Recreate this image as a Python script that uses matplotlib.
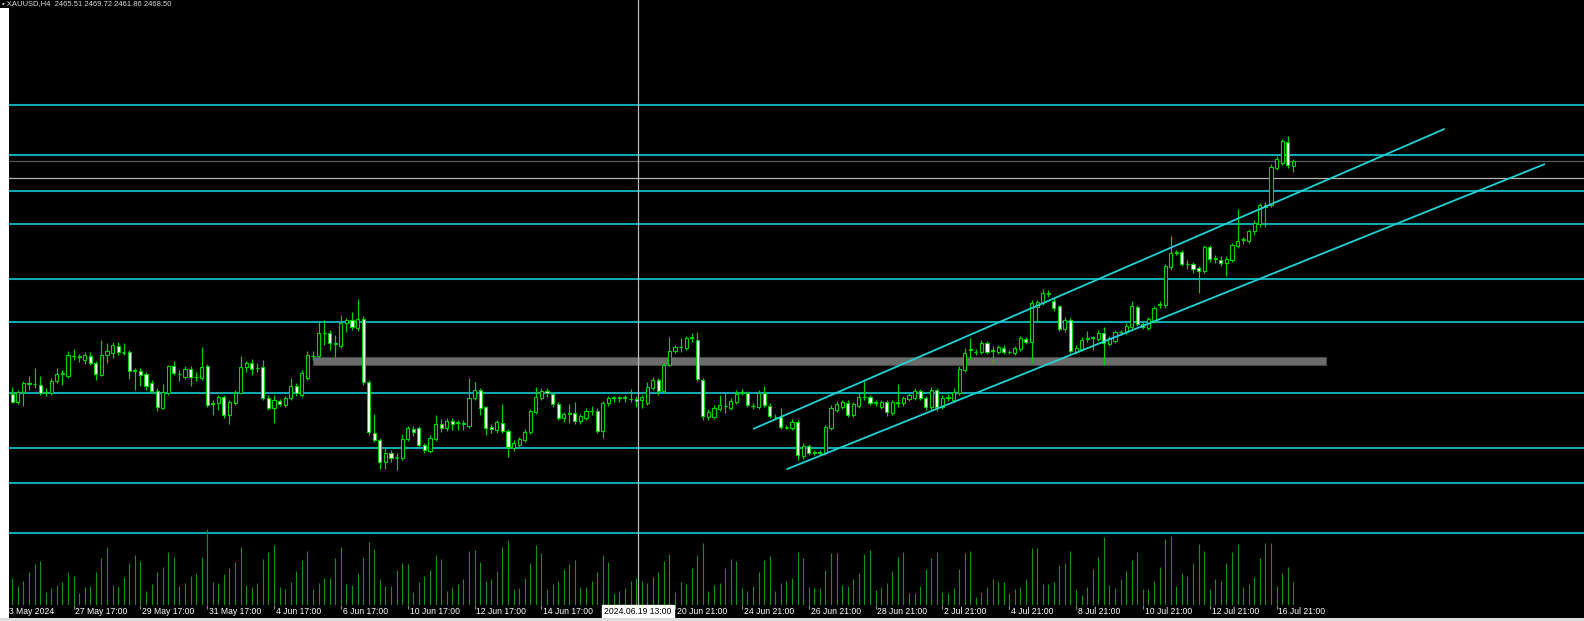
import matplotlib
matplotlib.use('Agg')
import matplotlib.pyplot as plt
import matplotlib.transforms as mtrans
from matplotlib.patches import Rectangle
import numpy as np

# ---------------- data (XAUUSD H4) ----------------
opens = [2328.6, 2323.8, 2329.8, 2334.6, 2334.6, 2334.0, 2329.8, 2329.2, 2336.4, 2340.6,
         2339.4, 2351.4, 2351.4, 2349.0, 2351.4, 2347.2, 2340.0, 2352.0, 2353.2, 2357.4,
         2353.8, 2353.8, 2342.4, 2342.4, 2340.6, 2335.2, 2330.4, 2320.2, 2329.2, 2345.4,
         2340.6, 2338.8, 2343.6, 2338.8, 2338.2, 2345.4, 2323.2, 2323.2, 2326.8, 2316.0,
         2323.2, 2329.2, 2344.8, 2347.2, 2344.2, 2344.8, 2326.2, 2320.2, 2324.4, 2322.0,
         2326.2, 2333.4, 2328.0, 2338.2, 2351.4, 2351.4, 2365.2, 2365.2, 2358.6, 2357.4,
         2371.2, 2373.0, 2368.2, 2373.6, 2335.8, 2305.2, 2301.0, 2287.8, 2293.2, 2290.8,
         2290.2, 2301.6, 2307.6, 2308.2, 2298.0, 2294.4, 2301.6, 2310.6, 2308.2, 2312.4,
         2311.2, 2310.6, 2309.4, 2326.2, 2331.0, 2320.8, 2308.8, 2307.0, 2311.2, 2306.4,
         2296.2, 2298.0, 2301.0, 2305.8, 2317.8, 2326.2, 2330.4, 2328.6, 2322.6, 2314.2,
         2316.6, 2317.2, 2312.4, 2314.2, 2318.4, 2318.4, 2306.4, 2323.2, 2326.2, 2326.2,
         2326.2, 2325.6, 2325.6, 2325.0, 2323.2, 2332.2, 2337.0, 2330.4, 2346.0, 2354.4,
         2356.8, 2356.2, 2362.2, 2361.0, 2337.0, 2314.8, 2314.8, 2319.6, 2321.4, 2320.2,
         2323.8, 2329.8, 2329.2, 2321.4, 2320.8, 2329.2, 2321.4, 2314.8, 2314.8, 2308.8,
         2308.2, 2311.8, 2291.4, 2297.4, 2293.2, 2293.2, 2293.2, 2308.2, 2319.0, 2320.8,
         2323.2, 2316.0, 2321.4, 2326.8, 2326.8, 2323.2, 2320.8, 2323.8, 2317.2, 2323.2,
         2323.2, 2325.6, 2326.2, 2330.4, 2326.2, 2320.8, 2331.0, 2320.8, 2326.2, 2325.0,
         2329.2, 2343.0, 2355.0, 2353.8, 2353.8, 2359.2, 2355.0, 2353.8, 2356.2, 2353.8,
         2353.2, 2355.6, 2361.6, 2359.8, 2380.8, 2383.2, 2388.6, 2384.4, 2381.4, 2367.6,
         2373.0, 2353.8, 2355.6, 2361.6, 2362.2, 2361.6, 2365.2, 2358.6, 2360.4, 2365.8,
         2365.8, 2368.8, 2380.8, 2370.6, 2368.2, 2372.4, 2382.0, 2382.0, 2404.8, 2413.2,
         2413.8, 2406.6, 2406.6, 2404.2, 2402.4, 2416.8, 2409.6, 2409.0, 2407.2, 2409.0,
         2417.4, 2421.0, 2420.4, 2426.4, 2430.6, 2440.8, 2442.0, 2464.2, 2467.2, 2479.8,
         2465.51]

closes = [2323.8, 2329.8, 2335.2, 2334.9, 2334.3, 2329.2, 2329.5, 2336.4, 2340.6, 2340.9,
          2352.0, 2351.7, 2350.8, 2352.0, 2347.2, 2340.6, 2352.0, 2354.4, 2358.0, 2353.8,
          2353.5, 2342.4, 2343.0, 2340.0, 2333.4, 2330.4, 2320.8, 2329.8, 2345.4, 2341.2,
          2340.3, 2343.6, 2338.8, 2339.1, 2344.8, 2322.0, 2322.6, 2326.8, 2316.0, 2323.8,
          2329.2, 2344.8, 2347.2, 2343.6, 2343.9, 2326.2, 2320.2, 2325.0, 2322.6, 2326.2,
          2333.4, 2329.2, 2341.2, 2352.0, 2351.7, 2365.2, 2364.9, 2359.2, 2358.9, 2371.2,
          2373.0, 2368.8, 2373.6, 2335.8, 2305.8, 2301.0, 2287.8, 2293.2, 2290.2, 2290.5,
          2301.6, 2308.2, 2305.8, 2298.0, 2295.0, 2302.2, 2310.6, 2308.2, 2312.4, 2310.6,
          2311.5, 2310.9, 2326.2, 2331.0, 2320.2, 2308.2, 2307.6, 2311.8, 2306.4, 2296.8,
          2299.2, 2301.6, 2305.8, 2318.4, 2326.8, 2330.4, 2329.2, 2322.6, 2314.2, 2316.6,
          2316.9, 2312.4, 2315.4, 2318.4, 2318.7, 2306.4, 2323.2, 2326.2, 2326.5, 2326.5,
          2326.8, 2325.3, 2324.4, 2326.8, 2332.8, 2337.0, 2330.4, 2346.0, 2354.4, 2356.8,
          2357.1, 2362.2, 2362.5, 2337.6, 2315.4, 2317.8, 2320.2, 2322.0, 2321.7, 2324.4,
          2328.6, 2329.5, 2322.0, 2321.7, 2329.2, 2322.0, 2315.4, 2314.5, 2308.8, 2308.5,
          2311.8, 2292.0, 2297.4, 2293.2, 2293.5, 2293.5, 2308.8, 2320.2, 2322.6, 2323.8,
          2316.0, 2322.6, 2326.8, 2327.1, 2323.2, 2323.5, 2323.8, 2317.8, 2323.8, 2323.5,
          2326.2, 2328.0, 2330.4, 2326.2, 2320.8, 2331.0, 2320.8, 2326.2, 2326.5, 2329.8,
          2343.6, 2353.2, 2355.3, 2354.1, 2359.2, 2353.8, 2354.7, 2356.8, 2353.8, 2354.1,
          2356.2, 2362.2, 2359.8, 2383.2, 2383.8, 2389.2, 2388.9, 2380.2, 2367.6, 2373.0,
          2354.4, 2356.2, 2361.0, 2361.9, 2362.5, 2365.2, 2359.2, 2362.2, 2365.8, 2366.1,
          2369.4, 2381.4, 2370.6, 2368.8, 2373.6, 2380.2, 2382.3, 2405.4, 2413.2, 2413.5,
          2406.6, 2406.3, 2403.6, 2402.4, 2416.8, 2409.6, 2409.9, 2407.2, 2409.6, 2418.0,
          2420.4, 2421.3, 2426.4, 2431.2, 2442.0, 2442.0, 2464.8, 2469.6, 2480.4, 2466.0,
          2468.50]

highs = [2332.8, 2331.0, 2336.4, 2339.6, 2344.2, 2339.6, 2332.2, 2338.2, 2344.2, 2343.0,
         2354.4, 2355.6, 2352.6, 2353.8, 2353.8, 2348.4, 2361.0, 2359.2, 2359.8, 2359.8,
         2359.2, 2355.0, 2344.2, 2344.2, 2341.8, 2337.0, 2332.2, 2334.6, 2346.0, 2348.4,
         2343.0, 2345.4, 2345.4, 2341.8, 2356.8, 2346.6, 2325.0, 2328.0, 2328.0, 2325.0,
         2331.0, 2351.6, 2348.4, 2349.6, 2347.2, 2349.0, 2328.0, 2328.0, 2325.6, 2327.4,
         2338.2, 2335.2, 2343.0, 2354.4, 2354.4, 2371.8, 2373.0, 2367.0, 2364.0, 2376.0,
         2374.2, 2377.8, 2385.6, 2375.4, 2337.0, 2316.6, 2302.2, 2296.2, 2295.0, 2293.2,
         2304.6, 2309.4, 2309.4, 2309.4, 2299.2, 2304.0, 2316.0, 2313.6, 2314.2, 2314.2,
         2313.0, 2313.0, 2338.2, 2335.8, 2332.2, 2321.4, 2310.6, 2313.0, 2322.6, 2307.6,
         2301.0, 2302.8, 2307.6, 2319.6, 2332.8, 2332.2, 2332.2, 2329.8, 2323.8, 2317.8,
         2322.6, 2323.8, 2316.6, 2320.2, 2321.4, 2320.2, 2324.4, 2327.4, 2327.4, 2327.4,
         2328.0, 2331.6, 2327.4, 2328.0, 2335.8, 2338.8, 2338.2, 2347.2, 2362.8, 2358.0,
         2362.2, 2363.4, 2365.2, 2365.8, 2338.2, 2319.6, 2322.0, 2328.0, 2329.2, 2326.2,
         2331.0, 2331.6, 2330.4, 2323.2, 2331.0, 2333.4, 2323.2, 2316.6, 2320.2, 2310.0,
         2313.6, 2313.0, 2299.2, 2298.6, 2295.0, 2295.0, 2310.0, 2322.0, 2324.4, 2325.0,
         2325.0, 2323.8, 2329.2, 2336.4, 2328.0, 2325.0, 2325.0, 2325.0, 2325.0, 2334.6,
         2327.4, 2329.2, 2332.2, 2331.6, 2327.4, 2332.8, 2332.2, 2328.0, 2328.6, 2332.2,
         2345.4, 2356.2, 2362.2, 2355.6, 2361.0, 2360.4, 2357.4, 2358.0, 2358.0, 2355.0,
         2357.4, 2363.4, 2362.8, 2385.0, 2385.0, 2391.6, 2391.0, 2386.2, 2382.0, 2374.8,
         2374.2, 2358.0, 2362.8, 2366.4, 2363.4, 2367.0, 2368.8, 2363.4, 2367.0, 2367.0,
         2371.2, 2384.4, 2382.0, 2371.8, 2374.8, 2381.4, 2384.4, 2406.6, 2423.4, 2415.0,
         2415.0, 2409.0, 2407.8, 2405.4, 2418.0, 2418.0, 2412.0, 2411.4, 2411.4, 2419.2,
         2439.6, 2422.8, 2427.6, 2433.0, 2443.2, 2443.8, 2466.6, 2471.4, 2481.6, 2483.4,
         2469.72]

lows = [2323.2, 2322.6, 2321.4, 2331.0, 2332.2, 2328.0, 2327.4, 2328.0, 2335.2, 2334.0,
        2338.2, 2349.0, 2347.8, 2346.6, 2346.0, 2337.0, 2339.4, 2347.2, 2350.2, 2352.0,
        2352.0, 2337.6, 2331.0, 2333.4, 2331.0, 2329.2, 2318.4, 2319.6, 2328.0, 2340.0,
        2336.4, 2337.6, 2333.4, 2336.4, 2337.0, 2320.8, 2316.0, 2319.0, 2314.2, 2310.6,
        2322.0, 2328.6, 2341.8, 2340.0, 2341.8, 2325.0, 2319.0, 2311.2, 2321.4, 2320.8,
        2325.0, 2327.4, 2326.8, 2337.0, 2349.0, 2350.2, 2358.0, 2355.0, 2351.0, 2356.2,
        2365.8, 2367.0, 2366.4, 2334.0, 2304.0, 2299.8, 2283.6, 2283.6, 2287.8, 2283.0,
        2289.0, 2300.4, 2303.4, 2296.8, 2293.2, 2293.2, 2300.4, 2305.8, 2306.4, 2307.0,
        2307.0, 2307.0, 2308.2, 2325.0, 2316.0, 2304.0, 2305.2, 2305.2, 2305.2, 2290.8,
        2294.4, 2296.2, 2299.8, 2304.6, 2316.6, 2325.0, 2326.8, 2320.8, 2313.0, 2311.8,
        2311.2, 2310.6, 2310.6, 2313.0, 2316.0, 2305.2, 2302.2, 2321.4, 2323.8, 2323.8,
        2323.8, 2323.8, 2320.8, 2320.2, 2322.0, 2331.0, 2328.0, 2329.2, 2345.4, 2353.2,
        2353.8, 2355.0, 2359.8, 2336.4, 2313.0, 2313.0, 2313.6, 2318.4, 2317.2, 2319.0,
        2322.6, 2328.0, 2320.8, 2319.6, 2319.6, 2320.8, 2314.2, 2313.6, 2307.6, 2307.6,
        2307.0, 2289.0, 2289.6, 2292.0, 2292.0, 2292.0, 2292.0, 2307.0, 2317.8, 2319.6,
        2314.8, 2314.8, 2320.2, 2325.0, 2322.0, 2321.4, 2319.6, 2315.4, 2316.0, 2320.8,
        2321.4, 2324.4, 2325.0, 2325.0, 2319.0, 2319.0, 2318.4, 2319.6, 2324.4, 2323.8,
        2328.0, 2341.8, 2349.0, 2352.0, 2352.6, 2352.6, 2347.2, 2352.6, 2352.6, 2352.6,
        2352.0, 2354.4, 2358.6, 2347.2, 2372.0, 2382.0, 2386.8, 2378.4, 2366.4, 2365.8,
        2353.2, 2352.6, 2354.4, 2359.8, 2355.0, 2360.4, 2346.0, 2357.4, 2359.2, 2364.0,
        2364.6, 2367.6, 2369.4, 2367.6, 2367.0, 2371.2, 2380.2, 2380.2, 2403.0, 2412.0,
        2405.4, 2403.6, 2401.2, 2389.2, 2401.2, 2407.8, 2407.2, 2405.4, 2399.4, 2407.8,
        2416.2, 2418.6, 2419.2, 2424.0, 2428.8, 2428.8, 2440.8, 2463.0, 2466.0, 2464.2,
        2461.86]

# tick volume, thousands
volumes = [28.7, 21.0, 26.0, 35.3, 43.0, 46.0, 15.3, 18.7, 22.0, 25.3,
           34.7, 31.0, 13.7, 19.7, 21.3, 35.3, 48.7, 60.3, 22.0, 20.3,
           29.7, 43.7, 52.0, 46.3, 16.3, 23.0, 34.7, 40.3, 54.7, 50.3,
           21.0, 24.3, 31.0, 33.7, 50.3, 77.7, 25.3, 23.7, 32.7, 39.3,
           45.3, 59.7, 22.0, 20.3, 23.7, 47.7, 54.7, 61.7, 19.7, 18.0,
           25.3, 36.0, 47.0, 56.0, 17.7, 24.3, 29.3, 29.3, 49.3, 60.0,
           23.0, 22.0, 34.3, 50.3, 65.0, 57.7, 27.7, 21.0, 21.0, 36.7,
           43.7, 43.0, 15.3, 24.7, 31.0, 37.0, 52.0, 47.7, 16.3, 19.7,
           23.0, 27.7, 56.3, 56.7, 45.0, 26.0, 27.7, 36.0, 60.3, 67.0,
           18.0, 19.0, 28.7, 44.3, 61.7, 53.7, 17.7, 23.0, 26.0, 38.0,
           43.0, 46.7, 19.7, 19.7, 26.0, 34.7, 52.3, 45.0, 14.3, 16.0,
           18.7, 26.0, 29.3, 26.0, 23.7, 30.3, 35.0, 46.0, 53.0, 15.3,
           25.3, 23.0, 38.7, 52.0, 63.7, 16.3, 22.0, 24.3, 38.7, 47.7,
           46.3, 18.7, 16.0, 21.0, 35.3, 47.0, 51.0, 16.3, 24.3, 26.0,
           28.7, 54.7, 49.3, 19.7, 18.7, 18.7, 37.0, 54.3, 54.3, 22.0,
           21.0, 27.7, 33.7, 53.0, 56.7, 17.0, 19.7, 24.3, 36.3, 50.3,
           54.7, 13.7, 14.3, 21.0, 37.7, 49.3, 54.7, 15.3, 14.3, 18.7,
           37.7, 54.3, 56.3, 9.7, 14.7, 19.7, 28.0, 24.7, 24.7, 13.7,
           18.0, 20.3, 27.7, 58.7, 58.7, 22.7, 23.0, 25.3, 41.7, 43.7,
           56.3, 18.0, 12.0, 20.0, 37.7, 50.0, 69.7, 21.7, 18.7, 28.0,
           36.0, 46.7, 55.3, 18.0, 18.0, 26.3, 40.0, 68.0, 71.0, 21.3,
           34.3, 31.3, 43.7, 62.7, 56.0, 18.0, 28.3, 26.3, 43.7, 55.3,
           63.0, 20.3, 22.7, 30.0, 48.7, 64.3, 63.7, 21.0, 33.7, 40.0,
           25.3]

tick_bars = [11, 23, 35, 47, 59, 71, 83, 95, 119, 131, 143, 155, 167, 179, 191, 203, 215, 227]
tick_labels = ['27 May 17:00', '29 May 17:00', '31 May 17:00', '4 Jun 17:00', '6 Jun 17:00',
               '10 Jun 17:00', '12 Jun 17:00', '14 Jun 17:00', '20 Jun 21:00', '24 Jun 21:00',
               '26 Jun 21:00', '28 Jun 21:00', '2 Jul 21:00', '4 Jul 21:00', '8 Jul 21:00',
               '10 Jul 21:00', '12 Jul 21:00', '16 Jul 21:00']
first_label = '23 May 2024'
header = '\u2022 XAUUSD,H4  2465.51 2469.72 2461.86 2468.50'

h_levels = [2502.0, 2472.0, 2450.4, 2430.6, 2397.4, 2372.0, 2329.4, 2296.0, 2275.2, 2245.2]
zone_bars = (54.0, 235.8)
zone_prices = (2346.0, 2351.0)
channel_upper = ((133.0, 2307.6), (257.2, 2487.7))
channel_lower = ((139.0, 2283.4), (275.2, 2466.6))
bid_price = 2468.50
cross_bar = 112.3
cross_price = 2458.0
cross_label = '2024.06.19 13:00'

# ---------------- figure ----------------
W, H = 1584, 621
fig = plt.figure(figsize=(W / 100, H / 100), dpi=100, facecolor='black')
ax_bottom_px = 605
ax = fig.add_axes([9 / W, (H - ax_bottom_px) / H, (W - 9) / W, ax_bottom_px / H])
ax.set_facecolor('black')
ax.set_xlim(-0.59, 282.2)
ax.set_ylim(2202, 2565)
for s in ax.spines.values():
    s.set_visible(False)
ax.set_yticks([])
ax.set_xticks(tick_bars)
ax.set_xticklabels([])
ax.tick_params(axis='x', length=3, width=0.8, color='#8a8a8a', direction='out')

GREEN = '#00d400'
CYAN_H = '#13a8b0'
CYAN_C = '#22d2d4'

# horizontal levels
for p in h_levels:
    ax.axhline(p, color=CYAN_H, lw=1.5, zorder=1)

# gray zone
ax.add_patch(Rectangle((zone_bars[0], zone_prices[0]), zone_bars[1] - zone_bars[0],
                       zone_prices[1] - zone_prices[0], facecolor='#6c6c6c',
                       edgecolor='#474747', lw=0.8, zorder=1.5))

# bid line and crosshair horizontal
ax.axhline(bid_price, color='#5a5a5a', lw=0.9, zorder=1.2)
ax.axhline(cross_price, color='#b4b4b4', lw=0.9, zorder=1.2)

# candles
x = np.arange(len(opens))
o = np.array(opens); c = np.array(closes); hi = np.array(highs); lo = np.array(lows)
ax.vlines(x, lo, hi, color=GREEN, lw=0.85, zorder=3)
fills = np.where(c >= o, 'black', 'white')
body = c - o
body = np.where(np.abs(body) < 0.05, 0.0, body)
ax.bar(x, body, bottom=o, width=0.56, color=fills, edgecolor=GREEN, linewidth=0.8, zorder=4)
doji = np.abs(c - o) < 0.7
ax.hlines(c[doji], x[doji] - 0.3, x[doji] + 0.3, color=GREEN, lw=0.9, zorder=4)

# channel lines
for (x0, y0), (x1, y1) in (channel_upper, channel_lower):
    ax.plot([x0, x1], [y0, y1], color=CYAN_C, lw=1.3, zorder=5, solid_capstyle='butt')

# volumes
ax2 = ax.twinx()
ax2.set_ylim(2, 607)
ax2.set_xlim(ax.get_xlim())
ax2.axis('off')
ax2.vlines(x, 0, volumes, color='#189018', lw=0.8)

# crosshair vertical
ax2.axvline(cross_bar, color='#b8b8b8', lw=0.9, zorder=6)

# x labels
trans = mtrans.blended_transform_factory(ax.transData, ax.transAxes)
lab_trans = mtrans.offset_copy(trans, fig=fig, x=1.8, y=-6.8, units='dots')
for b, t in zip(tick_bars, tick_labels):
    ax.text(b, 0, t, transform=lab_trans, ha='left', va='center', color='white',
            fontsize=6.2, family='Liberation Sans', clip_on=False)

fig.text(4.5 / W, (H - 611.8) / H, first_label, ha='left', va='center', color='white',
         fontsize=6.2, family='Liberation Sans')

# crosshair time label
cx_px = 9 + (cross_bar + 0.59) / (282.2 + 0.59) * (W - 9)
fig.text(cx_px / W, (H - 611.8) / H, cross_label, ha='center', va='center', color='black',
         fontsize=6.2, family='Liberation Sans', zorder=8,
         bbox=dict(boxstyle='square,pad=0.25', fc='white', ec='white'))

# header at the top edge
fig.text(2 / W, 1 - 0.5 / H, header, ha='left', va='top', color='#dcdcdc',
         fontsize=5.5, family='Liberation Sans')

# window edges
fig.patches.append(Rectangle((0, 0), 9 / W, (H - 8) / H, transform=fig.transFigure,
                             facecolor='white', edgecolor='none', zorder=10))
fig.patches.append(Rectangle((0, 0), 1, 3 / H, transform=fig.transFigure,
                             facecolor='#dcdcdc', edgecolor='none', zorder=10))

fig.savefig('out.png', dpi=100, facecolor='black')
